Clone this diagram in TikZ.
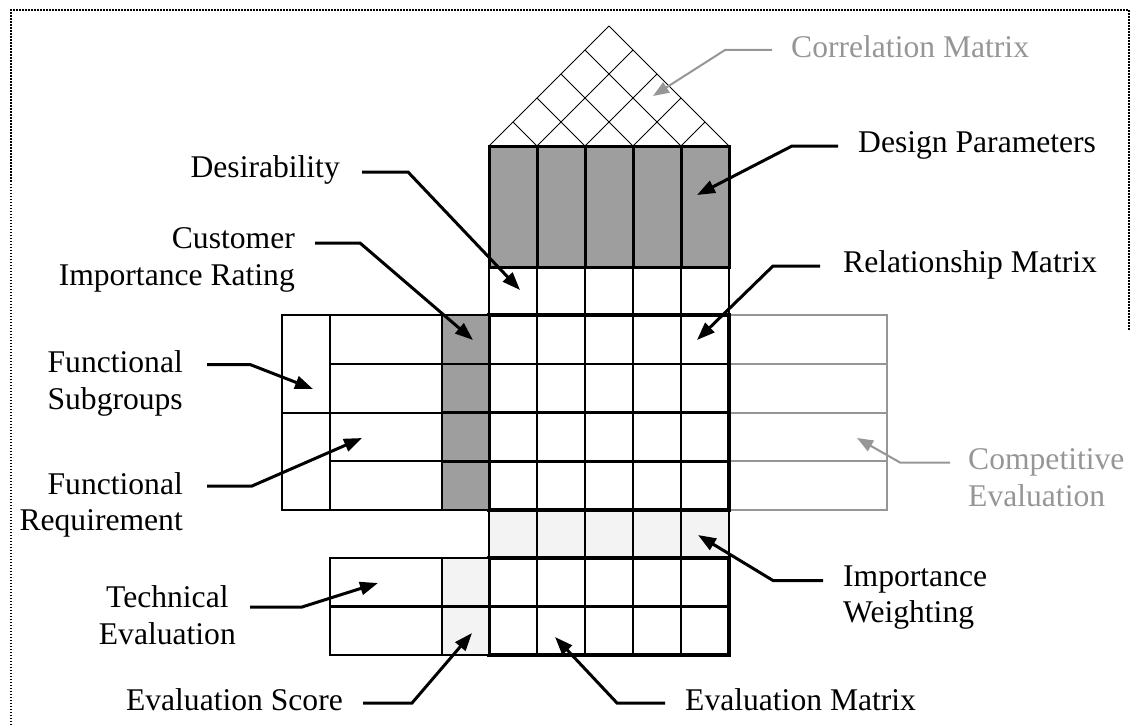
\documentclass[tikz,border=0pt]{standalone}
\usepackage{fontspec}
\setmainfont{Liberation Serif}
\usepackage{xcolor}
\usepackage{tikz}
\usetikzlibrary{calc}
\usetikzlibrary{arrows.meta}
\definecolor{dpgray}{RGB}{158,158,158}
\definecolor{wtgray}{RGB}{243,243,243}
\definecolor{cegray}{RGB}{150,150,150}
\tikzset{
	lbl/.style={font=\fontsize{31.6}{36.5}\selectfont,inner sep=0pt},
	glbl/.style={lbl,text=cegray},
	conn/.style={line width=3pt,-{Triangle[length=18pt,width=13pt]}},
	gconn/.style={line width=2pt,cegray,-{Triangle[length=16pt,width=12pt]}},
	cell/.style={line width=2.5pt},
}

\begin{document}
\begin{tikzpicture}[x=1pt,y=-1pt]
	\useasboundingbox (0,0) rectangle (1137,725);
	% dotted frame
	\draw[line width=1.5pt,dash pattern=on 1.5pt off 1.5pt] (11,725)--(11,10)--(1129,10)--(1129,330);
	% roof
	\foreach \d in {0,48,...,240}{
		\draw[line width=0.8pt] (489+\d,146)--({609+\d/2},{26+\d/2});
		\draw[line width=0.8pt] (489+\d,146)--({489+\d/2},{146-\d/2});
	}
	% design parameters and desirability
	\foreach \i in {0,...,4}{
		\draw[cell,line width=3pt,fill=dpgray] (489+48*\i,146) rectangle ++(48,121);
		\draw[cell] (489+48*\i,267) rectangle ++(48,48);
	}
	% competitive evaluation
	\draw[cegray,line width=1.5pt] (729,315) rectangle (887,510);
	\foreach \y in {364,413,461}
		\draw[cegray,line width=1.5pt] (729,\y)--(887,\y);
	% relationship matrix, weighting, evaluation matrix
	\foreach \i in {0,...,4}{
		\foreach \j in {0,...,3}
			\draw[cell] (489+48*\i,{315+48.75*\j}) rectangle ++(48,48.75);
		\draw[cell,fill=wtgray] (489+48*\i,510) rectangle ++(48,48);
		\foreach \j in {0,1}
			\draw[cell] (489+48*\i,{558+48.5*\j}) rectangle ++(48,48.5);
	}
	\draw[line width=4pt] (489,315) rectangle (729,510);
	\draw[line width=4pt] (489,558) rectangle (729,655);
	% left side
	\draw[cell] (282,315) rectangle (442,510);
	\draw[cell] (330,315)--(330,510);
	\draw[cell] (282,413)--(330,413);
	\foreach \y in {364,413,461}
		\draw[cell] (330,\y)--(442,\y);
	\foreach \j in {0,...,3}
		\draw[cell,fill=dpgray] (442,{315+48.75*\j}) rectangle ++(47,48.75);
	\draw[cell] (330,558) rectangle (442,655);
	\draw[cell] (330,606.5)--(442,606.5);
	\foreach \j in {0,1}
		\draw[cell,fill=wtgray] (442,{558+48.5*\j}) rectangle ++(47,48.5);
	% arrow tips
	\coordinate (tCorr) at (653,96);
	\coordinate (tDesign) at (697,195);
	\coordinate (tRel) at (697,340);
	\coordinate (tDesir) at (520,290);
	\coordinate (tCust) at (473,340);
	\coordinate (tSub) at (313,389);
	\coordinate (tReq) at (362,438);
	\coordinate (tTech) at (378,583);
	\coordinate (tComp) at (857,438);
	\coordinate (tImp) at (698,535);
	\coordinate (tScore) at (472,633);
	\coordinate (tEvm) at (555,637);
	% labels
	\node[glbl,anchor=west] (corr) at (791,47) {Correlation Matrix};
	\node[lbl,anchor=west] (design) at (858,145) {Design Parameters};
	\node[lbl,anchor=west] (relat) at (843,265) {Relationship Matrix};
	\node[lbl,anchor=east] (desir) at (340,170) {Desirability};
	\node[lbl,anchor=east,align=right] (cust) at (295,260) {Customer\\Importance Rating};
	\node[lbl,anchor=east,align=right] (fsub) at (183,383.5) {Functional\\Subgroups};
	\node[lbl,anchor=east,align=right] (freq) at (183,505) {Functional\\Requirement};
	\node[lbl,anchor=east,align=center] (tech) at (236,615) {Technical\\Evaluation};
	\node[glbl,anchor=west,align=left] (comp) at (968,477.5) {Competitive\\Evaluation};
	\node[lbl,anchor=west,align=left] (imp) at (843,597.5) {Importance\\Weighting};
	\node[lbl,anchor=east] (score) at (343,700) {Evaluation Score};
	\node[lbl,anchor=west] (evmat) at (685,700) {Evaluation Matrix};
	% connectors
	\draw[gconn] (corr.west) ++(-19,3) -- ++(-47,0) -- (tCorr);
	\draw[conn] (design.west) ++(-20,1) -- ++(-46,0) -- (tDesign);
	\draw[conn] (relat.west) ++(-23,1) -- ++(-47,0) -- (tRel);
	\draw[conn] (desir.east) ++(22,2) -- ++(46,0) -- (tDesir);
	\draw[conn] (cust.east) ++(20,-17) -- ++(45,0) -- (tCust);
	\draw[conn] (fsub.east) ++(24,-19) -- ++(43,0) -- (tSub);
	\draw[conn] (freq.east) ++(24,-19) -- ++(45,0) -- (tReq);
	\draw[conn] (tech.east) ++(14,-8) -- ++(52,0) -- (tTech);
	\draw[gconn] (comp.west) ++(-18,-15) -- ++(-50,0) -- (tComp);
	\draw[conn] (imp.west) ++(-20,-17) -- ++(-50,0) -- (tImp);
	\draw[conn] (score.east) ++(20,3) -- ++(49,0) -- (tScore);
	\draw[conn] (evmat.west) ++(-20,3) -- ++(-48,0) -- (tEvm);
\end{tikzpicture}
\end{document}
